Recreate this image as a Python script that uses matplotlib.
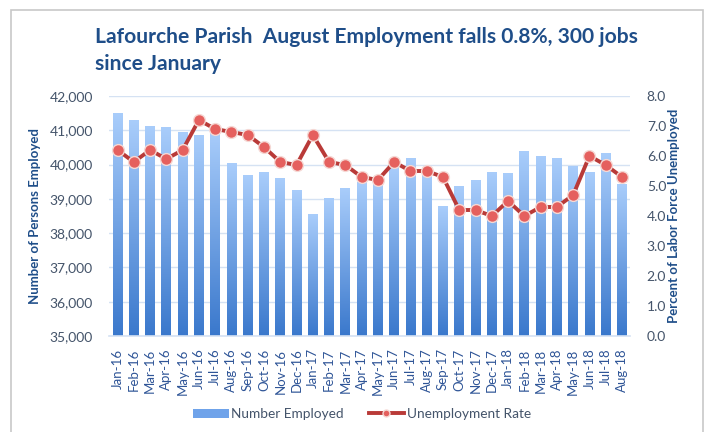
import numpy as np
import matplotlib
matplotlib.use("Agg")
import matplotlib.pyplot as plt
from matplotlib.colors import LinearSegmentedColormap
from matplotlib.patches import Rectangle, Patch
from matplotlib.lines import Line2D

months = ["Jan-16", "Feb-16", "Mar-16", "Apr-16", "May-16", "Jun-16", "Jul-16", "Aug-16",
          "Sep-16", "Oct-16", "Nov-16", "Dec-16", "Jan-17", "Feb-17", "Mar-17", "Apr-17",
          "May-17", "Jun-17", "Jul-17", "Aug-17", "Sep-17", "Oct-17", "Nov-17", "Dec-17",
          "Jan-18", "Feb-18", "Mar-18", "Apr-18", "May-18", "Jun-18", "Jul-18", "Aug-18"]
employed = [41490, 41280, 41120, 41090, 40930, 40860, 40980, 40040,
            39690, 39770, 39600, 39230, 38530, 39000, 39300, 39480,
            39560, 39930, 40190, 39800, 38790, 39370, 39550, 39770,
            39730, 40390, 40240, 40170, 39940, 39770, 40310, 39420]
unemp_rate = [6.2, 5.8, 6.2, 5.9, 6.2, 7.2, 6.9, 6.8,
              6.7, 6.3, 5.8, 5.7, 6.7, 5.8, 5.7, 5.3,
              5.2, 5.8, 5.5, 5.5, 5.3, 4.2, 4.2, 4.0,
              4.5, 4.0, 4.3, 4.3, 4.7, 6.0, 5.7, 5.3]
left_ticks = [35000, 36000, 37000, 38000, 39000, 40000, 41000, 42000]
right_ticks = [0, 1, 2, 3, 4, 5, 6, 7, 8]

FONT = ["Lato", "DejaVu Sans"]
plt.rcParams['font.family'] = FONT

title_col = "#1F4E89"
tick_col = "#44546A"
xtick_col = "#2F5597"

fig = plt.figure(figsize=(7.09, 4.32), dpi=100)
fig.patch.set_facecolor("white")
fig.patches.append(Rectangle((11 / 709, -0.2), (703 - 11) / 709, 1.2 - 10 / 432,
                             transform=fig.transFigure, fill=False,
                             edgecolor="#C8C8C8", linewidth=1.2))

ax = fig.add_axes([109.4 / 709, 1 - 336 / 432, 520.7 / 709, 240 / 432])
x = np.arange(len(months))

cmap = LinearSegmentedColormap.from_list("g", ["#3A78CC", "#A9CDFB"])
grad = np.linspace(0, 1, 256).reshape(-1, 1)
bw = 0.6
bars = ax.bar(x, employed, width=bw, color="none", edgecolor="none")
for xi, v in zip(x, employed):
    ax.imshow(grad, extent=(xi - bw / 2, xi + bw / 2, 35000, v), origin="lower",
              cmap=cmap, aspect="auto", interpolation="bilinear", zorder=2)

ax.set_xlim(-0.5, len(months) - 0.5)
ax.set_ylim(35000, 42000)
ax.set_yticks(left_ticks)
ax.set_yticklabels([f"{t:,}" for t in left_ticks])
ax.grid(axis="y", color="#D5E2F3", linewidth=1.0, zorder=0)
ax.set_axisbelow(True)
for s in ["top", "right", "left"]:
    ax.spines[s].set_visible(False)
ax.spines["bottom"].set_color("#D5E2F3")
ax.spines["bottom"].set_linewidth(1.2)
ax.tick_params(axis="both", length=0)
ax.tick_params(axis="y", labelsize=10, labelcolor=tick_col, pad=12)
ax.set_xticks(x)
ax.set_xticklabels(months, rotation=90, fontsize=9.5, color=xtick_col)
ax.tick_params(axis="x", pad=9)
ax.set_ylabel("Number of Persons Employed", fontsize=9.5, fontweight="bold",
              color=title_col, labelpad=6)

ax2 = ax.twinx()
ax2.plot(x, unemp_rate, color="#B93A38", linewidth=2.8, marker="o", markersize=8.5,
         markerfacecolor="#E5605E", markeredgecolor="#F5D8D4", markeredgewidth=1.0, zorder=5)
ax2.set_ylim(0, 8)
ax2.set_yticks(right_ticks)
ax2.set_yticklabels([f"{t:.1f}" for t in right_ticks])
for s in ["top", "right", "left", "bottom"]:
    ax2.spines[s].set_visible(False)
ax2.tick_params(axis="y", length=0, labelsize=10, labelcolor=tick_col, pad=12)
ax2.set_ylabel("Percent of Labor Force Unemployed", fontsize=9.5, fontweight="bold",
               color=title_col, labelpad=1)

fig.text(95 / 709, 1 - 37 / 432, "Lafourche Parish  August Employment falls 0.8%, 300 jobs",
         fontsize=15.1, fontweight="bold", color=title_col, va="center", ha="left")
fig.text(95 / 709, 1 - 64 / 432, "since January",
         fontsize=15.1, fontweight="bold", color=title_col, va="center", ha="left")

handles = [Patch(facecolor="#6FA3EA", edgecolor="none"),
           Line2D([0], [0], color="#B93A38", linewidth=2.8, marker="o", markersize=5,
                  markerfacecolor="#E5605E", markeredgecolor="#F5D8D4")]
fig.legend(handles, ["Number Employed", "Unemployment Rate"], loc="center",
           bbox_to_anchor=(362 / 709, 1 - 414 / 432), ncol=2, frameon=False,
           fontsize=9.8, labelcolor=tick_col, handlelength=2.6, handleheight=0.6,
           columnspacing=1.8, handletextpad=0.2)

fig.savefig("out.png", dpi=100, facecolor="white")
